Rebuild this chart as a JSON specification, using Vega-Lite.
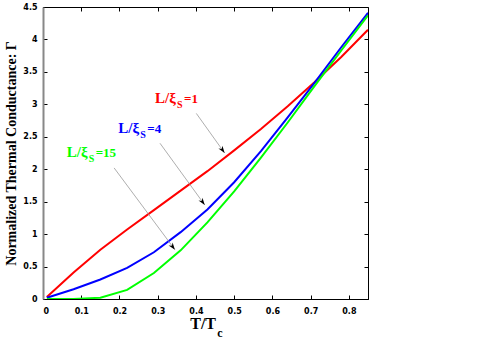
{
  "$schema": "https://vega.github.io/schema/vega-lite/v6.json",
  "width": 325,
  "height": 292,
  "autosize": "none",
  "padding": {"left": 43, "top": 7, "right": 123, "bottom": 48},
  "background": "white",
  "config": {
    "view": {"stroke": "black", "strokeWidth": 1},
    "axis": {"grid": false, "labelFont": "DejaVu Sans", "labelFontWeight": "bold", "labelFontSize": 8, "labelColor": "black", "tickColor": "black", "domainColor": "black", "tickSize": -4, "format": "~g"}
  },
  "datasets": {
    "curves": [
      {"T": 0.01, "G": 0.03, "s": "1"}, {"T": 0.08, "G": 0.41, "s": "1"}, {"T": 0.15, "G": 0.76, "s": "1"}, {"T": 0.22, "G": 1.07, "s": "1"}, {"T": 0.29, "G": 1.37, "s": "1"}, {"T": 0.36, "G": 1.67, "s": "1"}, {"T": 0.43, "G": 1.97, "s": "1"}, {"T": 0.5, "G": 2.29, "s": "1"}, {"T": 0.57, "G": 2.62, "s": "1"}, {"T": 0.64, "G": 2.97, "s": "1"}, {"T": 0.71, "G": 3.34, "s": "1"}, {"T": 0.78, "G": 3.73, "s": "1"}, {"T": 0.85, "G": 4.15, "s": "1"},
      {"T": 0.01, "G": 0.02, "s": "4"}, {"T": 0.08, "G": 0.15, "s": "4"}, {"T": 0.15, "G": 0.3, "s": "4"}, {"T": 0.22, "G": 0.48, "s": "4"}, {"T": 0.29, "G": 0.72, "s": "4"}, {"T": 0.36, "G": 1.03, "s": "4"}, {"T": 0.43, "G": 1.38, "s": "4"}, {"T": 0.5, "G": 1.8, "s": "4"}, {"T": 0.57, "G": 2.28, "s": "4"}, {"T": 0.64, "G": 2.8, "s": "4"}, {"T": 0.71, "G": 3.33, "s": "4"}, {"T": 0.78, "G": 3.88, "s": "4"}, {"T": 0.85, "G": 4.41, "s": "4"},
      {"T": 0.01, "G": 0.0, "s": "15"}, {"T": 0.08, "G": 0.0, "s": "15"}, {"T": 0.15, "G": 0.02, "s": "15"}, {"T": 0.22, "G": 0.14, "s": "15"}, {"T": 0.29, "G": 0.4, "s": "15"}, {"T": 0.36, "G": 0.75, "s": "15"}, {"T": 0.43, "G": 1.18, "s": "15"}, {"T": 0.5, "G": 1.66, "s": "15"}, {"T": 0.57, "G": 2.18, "s": "15"}, {"T": 0.64, "G": 2.72, "s": "15"}, {"T": 0.71, "G": 3.28, "s": "15"}, {"T": 0.78, "G": 3.83, "s": "15"}, {"T": 0.85, "G": 4.37, "s": "15"}
    ],
    "labels": [
      {"s": "1", "T": 0.293, "G": 3.02, "main": "L/ξ", "sub": "S", "eq": "=1"},
      {"s": "4", "T": 0.197, "G": 2.56, "main": "L/ξ", "sub": "S", "eq": "=4"},
      {"s": "15", "T": 0.062, "G": 2.19, "main": "L/ξ", "sub": "S", "eq": "=15"}
    ],
    "arrows": [
      {"s": "1", "T": 0.401, "G": 2.86, "T2": 0.475, "G2": 2.25},
      {"s": "4", "T": 0.306, "G": 2.4, "T2": 0.423, "G2": 1.45},
      {"s": "15", "T": 0.186, "G": 2.02, "T2": 0.345, "G2": 0.76}
    ]
  },
  "layer": [
    {
      "data": {"name": "curves"},
      "mark": {"type": "line", "strokeWidth": 2, "clip": true},
      "encoding": {
        "x": {"field": "T", "type": "quantitative", "scale": {"domain": [0, 0.85], "nice": false, "zero": false}, "axis": {"orient": "bottom", "values": [0, 0.1, 0.2, 0.3, 0.4, 0.5, 0.6, 0.7, 0.8], "labelPadding": 12, "title": null}},
        "y": {"field": "G", "type": "quantitative", "scale": {"domain": [0, 4.5], "nice": false}, "axis": {"orient": "left", "values": [0, 0.5, 1, 1.5, 2, 2.5, 3, 3.5, 4, 4.5], "labelPadding": 10, "domainColor": "#888888", "domainWidth": 2, "title": "Normalized Thermal Conductance: Γ", "titleFont": "Liberation Serif", "titleFontSize": 14, "titleFontWeight": "bold", "titleColor": "black", "titlePadding": 4}},
        "color": {"field": "s", "type": "nominal", "scale": {"domain": ["1", "4", "15"], "range": ["#ff0000", "#0000ff", "#00ff00"]}, "legend": null},
        "detail": {"field": "s"}
      }
    },
    {
      "data": {"name": "arrows"},
      "mark": {"type": "rule", "color": "#999999", "strokeWidth": 0.8},
      "encoding": {
        "x": {"field": "T", "type": "quantitative", "axis": {"orient": "top", "labels": false, "title": null, "domain": false, "values": [0, 0.1, 0.2, 0.3, 0.4, 0.5, 0.6, 0.7, 0.8]}},
        "y": {"field": "G", "type": "quantitative", "axis": {"orient": "right", "labels": false, "title": null, "domain": false, "values": [0, 0.5, 1, 1.5, 2, 2.5, 3, 3.5, 4, 4.5]}},
        "x2": {"field": "T2"},
        "y2": {"field": "G2"}
      }
    },
    {
      "data": {"name": "arrows"},
      "transform": [{"calculate": "atan2((datum.T2 - datum.T) * 382.4, (datum.G2 - datum.G) * 64.9) * 180 / PI", "as": "ang"}],
      "mark": {"type": "point", "shape": "M0,0L0.55,1.6L0,1.1L-0.55,1.6Z", "filled": true, "color": "black", "opacity": 1, "size": 81},
      "encoding": {
        "x": {"field": "T2", "type": "quantitative", "axis": null},
        "y": {"field": "G2", "type": "quantitative", "axis": null},
        "angle": {"field": "ang", "type": "quantitative", "scale": null}
      }
    },
    {
      "data": {"name": "labels"},
      "mark": {"type": "text", "align": "left", "baseline": "alphabetic", "font": "Liberation Serif", "fontWeight": "bold", "fontSize": 15},
      "encoding": {
        "x": {"field": "T", "type": "quantitative", "axis": null},
        "y": {"field": "G", "type": "quantitative", "axis": null},
        "text": {"field": "main"},
        "color": {"field": "s", "type": "nominal", "legend": null}
      }
    },
    {
      "data": {"name": "labels"},
      "mark": {"type": "text", "align": "left", "baseline": "alphabetic", "font": "Liberation Serif", "fontWeight": "bold", "fontSize": 10, "dx": 22, "dy": 5},
      "encoding": {
        "x": {"field": "T", "type": "quantitative", "axis": null},
        "y": {"field": "G", "type": "quantitative", "axis": null},
        "text": {"field": "sub"},
        "color": {"field": "s", "type": "nominal", "legend": null}
      }
    },
    {
      "data": {"name": "labels"},
      "mark": {"type": "text", "align": "left", "baseline": "alphabetic", "font": "Liberation Serif", "fontWeight": "bold", "fontSize": 13, "dx": 29, "dy": 0},
      "encoding": {
        "x": {"field": "T", "type": "quantitative", "axis": null},
        "y": {"field": "G", "type": "quantitative", "axis": null},
        "text": {"field": "eq"},
        "color": {"field": "s", "type": "nominal", "legend": null}
      }
    },
    {
      "data": {"values": [{"t": "T/T"}]},
      "mark": {"type": "text", "align": "left", "baseline": "alphabetic", "font": "Liberation Serif", "fontWeight": "bold", "fontSize": 16, "dy": 30},
      "encoding": {
        "x": {"datum": 0.385, "type": "quantitative", "axis": null},
        "y": {"datum": 0, "type": "quantitative", "axis": null},
        "text": {"field": "t"}
      }
    },
    {
      "data": {"values": [{"t": "c"}]},
      "mark": {"type": "text", "align": "left", "baseline": "alphabetic", "font": "Liberation Serif", "fontWeight": "bold", "fontSize": 12, "dx": 27, "dy": 38},
      "encoding": {
        "x": {"datum": 0.385, "type": "quantitative", "axis": null},
        "y": {"datum": 0, "type": "quantitative", "axis": null},
        "text": {"field": "t"}
      }
    }
  ]
}
